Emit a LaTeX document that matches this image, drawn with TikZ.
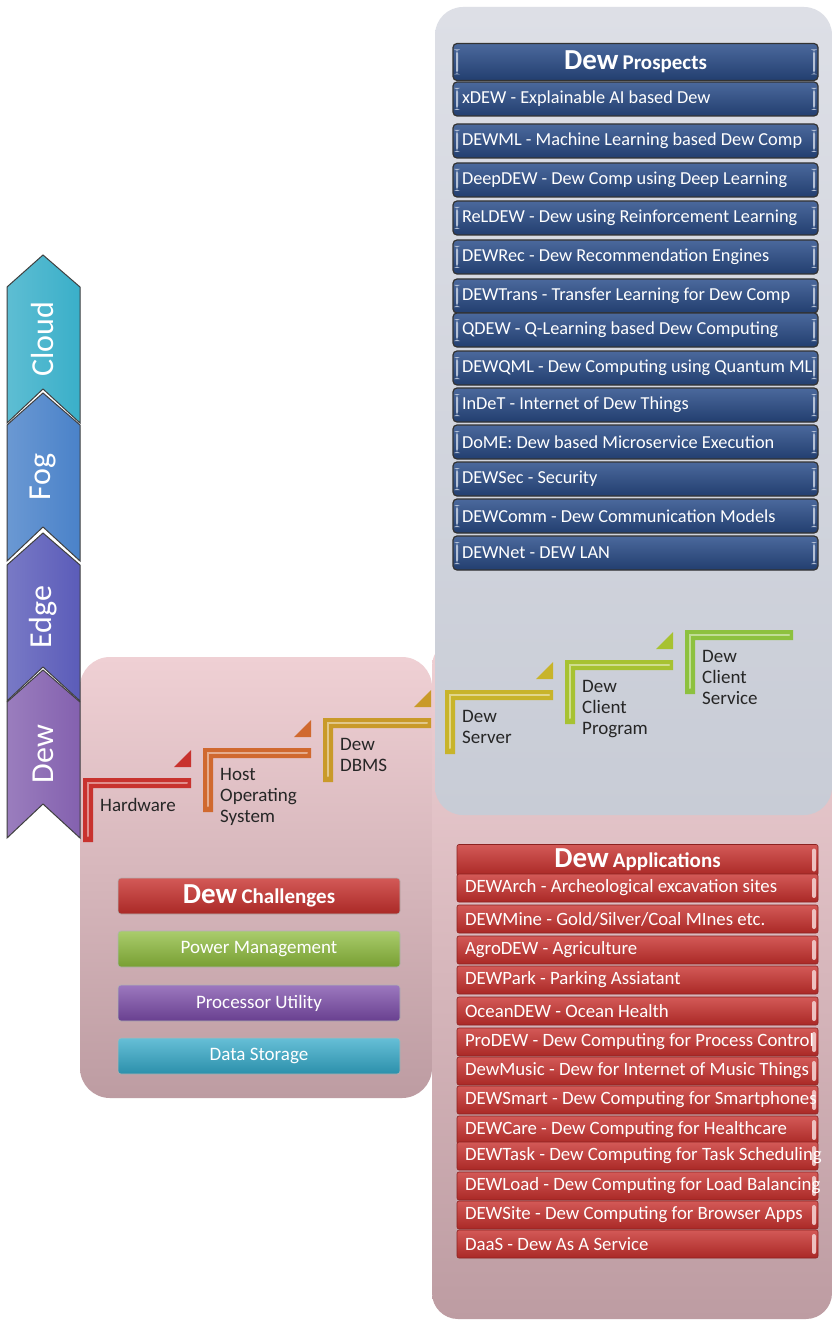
\documentclass[tikz,border=0pt]{standalone}
\usepackage{fontspec}
\setmainfont{Carlito}
\definecolor{grayA}{HTML}{DDDFE6}
\definecolor{grayB}{HTML}{C8CCD6}
\definecolor{pinkA}{HTML}{EFD0D4}
\definecolor{pinkB}{HTML}{BD9CA2}
\definecolor{cloudc}{HTML}{3AAFC9}
\definecolor{fogc}{HTML}{4A82C9}
\definecolor{edgec}{HTML}{5B5CB9}
\definecolor{dewc}{HTML}{8461AF}
\definecolor{hwc}{HTML}{C8322E}
\definecolor{osc}{HTML}{D0692F}
\definecolor{dbc}{HTML}{C99A29}
\definecolor{svc}{HTML}{C8B42A}
\definecolor{cpc}{HTML}{A7C232}
\definecolor{csc}{HTML}{8DC13F}
\definecolor{prosc}{HTML}{2B4E8B}
\definecolor{appc}{HTML}{C8302D}
\definecolor{powc}{HTML}{8DBB3B}
\definecolor{proc}{HTML}{7B4BA9}
\definecolor{datc}{HTML}{33A9C9}

\begin{document}
\begin{tikzpicture}
  [x=1pt,y=-1pt,
   chev/.style={draw=black!75,line width=1},
   chevlabel/.style={rotate=90,text=white,font=\fontsize{32}{32}\selectfont},
   steplabel/.style={anchor=north west,align=left,inner sep=0,text=black!85,font=\fontsize{19}{21}\selectfont},
   prosbox/.style={minimum width=365,minimum height=34,inner xsep=9,inner ysep=0,rounded corners=4,
     draw=black!80,line width=1.2,top color=prosc!85!white,bottom color=prosc!80!black,text=white,
     font=\fontsize{18.3}{20}\selectfont,
     path picture={\fill[prosc!35!white] ([xshift=3,yshift=-6]path picture bounding box.north west) rectangle ([xshift=5,yshift=6]path picture bounding box.south west);
       \fill[prosc!35!white] ([xshift=-3,yshift=-6]path picture bounding box.north east) rectangle ([xshift=-5,yshift=6]path picture bounding box.south east);}},
   appbox/.style={minimum width=361,minimum height=28,inner xsep=8,inner ysep=0,rounded corners=2,
     draw=appc!70!black,line width=0.6,top color=appc!80!white,bottom color=appc!85!black,text=white,
     font=\fontsize{18.8}{20}\selectfont,
     path picture={\fill[appc!30!white] ([xshift=-2,yshift=-4]path picture bounding box.north east) rectangle ([xshift=-6,yshift=4]path picture bounding box.south east);}},
   chalbox/.style={minimum width=282,minimum height=36,inner sep=0,rounded corners=3,
     draw=black!30,line width=0.6,text=white,font=\fontsize{19}{22}\selectfont}]

  \useasboundingbox (0,0) rectangle (832,1321);
  \fill[white] (0,0) rectangle (832,1321);

  % Paneles de fondo
  \shade[rounded corners=30,top color=pinkA,bottom color=pinkB] (80,657) rectangle (432,1098);
  \shade[rounded corners=26,top color=pinkA,bottom color=pinkB] (432,640) rectangle (832,1319);
  \shade[rounded corners=28,top color=grayA,bottom color=grayB] (435,7) rectangle (832,815);

  % Galones de la izquierda
  \foreach \t/\a/\col in {Cloud/255/cloudc,Fog/393/fogc,Edge/533/edgec,Dew/670/dewc}{
    \draw[chev,left color=\col!82!white,right color=\col] (7,\a+32) -- (43,\a) -- (80,\a+32) -- (80,\a+168) -- (43,\a+134) -- (7,\a+168) -- cycle;
    \node[chevlabel] (k\t) at (43,\a+84) {\t};
  }

  % Escalera
  \foreach \cx/\cy/\col/\txt [count=\i] in {83/778/hwc/Hardware,203/748/osc/{Host\\Operating\\System},
      323/718/dbc/{Dew\\DBMS},445/690/svc/{Dew\\Server},565/660/cpc/{Dew\\Client\\Program},685/630/csc/{Dew\\Client\\Service}}{
    \fill[\col] (\cx,\cy) -- ++(108,0) -- ++(0,10) -- ++(-98,0) -- ++(0,54) -- ++(-10,0) -- cycle;
    \draw[\col!55!white,line width=2,line cap=round] (\cx+4.5,\cy+58) -- (\cx+4.5,\cy+4.5) -- (\cx+104,\cy+4.5);
    \ifnum\i<6
      \fill[\col] (\cx+91,\cy-11) -- (\cx+108,\cy-11) -- (\cx+108,\cy-28) -- cycle;
    \fi
    \node[steplabel] (s\i) at (\cx+17,\cy+20) {\txt};
  }

  % Dew Prospects
  \node[prosbox,minimum height=37] (ph) at (635.5,62) {\bfseries{\fontsize{29}{29}\selectfont Dew} \fontsize{21}{21}\selectfont Prospects};
  \foreach \y/\t [count=\i] in {99/xDEW - Explainable AI based Dew,141/DEWML - Machine Learning based Dew Comp,
      180/DeepDEW - Dew Comp using Deep Learning,218/ReLDEW - Dew using Reinforcement Learning,
      257/DEWRec - Dew Recommendation Engines,296/DEWTrans - Transfer Learning for Dew Comp,
      330/QDEW - Q-Learning based Dew Computing,368/DEWQML - Dew Computing using Quantum ML,
      405/InDeT - Internet of Dew Things,442/DoME: Dew based Microservice Execution,
      479/DEWSec - Security,516/DEWComm - Dew Communication Models,553/DEWNet - DEW LAN}
    \node[prosbox] (p\i) at (635.5,\y) {\makebox[347pt][l]{\t}};

  % Dew Applications
  \node[appbox,minimum height=31] (ah) at (637.5,860) {\bfseries{\fontsize{29}{29}\selectfont Dew} \fontsize{21}{21}\selectfont Applications};
  \foreach \y/\t [count=\i] in {888/DEWArch - Archeological excavation sites,919/{DEWMine - Gold/Silver/Coal MInes etc.},
      950/AgroDEW - Agriculture,980/DEWPark - Parking Assiatant,1011/OceanDEW - Ocean Health,
      1042/ProDEW - Dew Computing for Process Control,1071/DewMusic - Dew for Internet of Music Things,
      1100/DEWSmart - Dew Computing for Smartphones,1130/DEWCare - Dew Computing for Healthcare,
      1156/DEWTask - Dew Computing for Task Scheduling,1186/DEWLoad - Dew Computing for Load Balancing,
      1215/DEWSite - Dew Computing for Browser Apps,1244/DaaS - Dew As A Service}
    \node[appbox] (a\i) at (637.5,\y) {\makebox[345pt][l]{\t}};

  % Dew Challenges
  \node[chalbox,top color=appc!80!white,bottom color=appc!85!black] (ch) at (259,896) {\bfseries{\fontsize{29}{29}\selectfont Dew} \fontsize{21}{21}\selectfont Challenges};
  \foreach \y/\col/\t [count=\i] in {949/powc/Power Management,1003/proc/Processor Utility,1056/datc/Data Storage}
    \node[chalbox,top color=\col!75!white,bottom color=\col!85!black] (c\i) at (259,\y) {\t};

\end{tikzpicture}
\end{document}
